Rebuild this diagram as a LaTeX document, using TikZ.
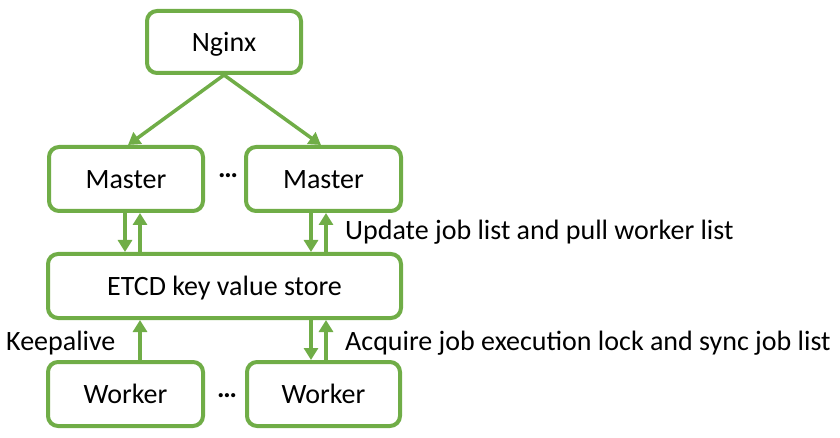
\documentclass[tikz,border=0pt]{standalone}
\usepackage{fontspec}
\setmainfont{Carlito}
\usetikzlibrary{arrows.meta}
\definecolor{grn}{HTML}{70AD47}
\tikzset{
  box/.style={draw=grn, line width=4pt, rounded corners=10pt, fill=white,
    minimum width=#1, minimum height=64pt, inner sep=0pt,
    font=\fontsize{28}{30}\selectfont, text height=19pt, text depth=0pt},
  arr/.style={draw=grn, line width=3.5pt, -{Triangle[width=14pt,length=12pt]}},
  lbl/.style={anchor=base west, inner sep=0pt, font=\fontsize{28}{30}\selectfont},
  dots/.style={inner sep=0pt, font=\fontsize{28}{30}\selectfont\bfseries}
}
\begin{document}
\begin{tikzpicture}[x=1pt,y=-1pt]
\useasboundingbox (0,0) rectangle (840,438);
\node[box=154pt, minimum height=62pt] (ng) at (224,42) {Nginx};
\node[box=154pt] (m1) at (126,179) {Master};
\node[box=155pt] (m2) at (323.5,179) {Master};
\node[box=353pt] (etcd) at (224.5,286) {ETCD key value store};
\node[box=155pt] (w1) at (125.5,394) {Worker};
\node[box=153pt] (w2) at (323.5,394) {Worker};
\node[dots] (d1) at (228,176) {…};
\node[dots] (d2) at (227,396) {…};
\coordinate (xa) at (125,0);
\coordinate (xb) at (140,0);
\coordinate (xc) at (311,0);
\coordinate (xd) at (326,0);
\coordinate (t1) at (128,0);
\coordinate (t2) at (321,0);
% Nginx to masters
\draw[arr] (ng.south) -- (m1.north -| t1);
\draw[arr] (ng.south) -- (m2.north -| t2);
% masters <-> etcd
\draw[arr] (m1.south -| xa) -- (etcd.north -| xa);
\draw[arr] (etcd.north -| xb) -- (m1.south -| xb);
\draw[arr] (m2.south -| xc) -- (etcd.north -| xc);
\draw[arr] (etcd.north -| xd) -- (m2.south -| xd);
% workers <-> etcd
\draw[arr] (w1.north -| xb) -- (etcd.south -| xb);
\draw[arr] (etcd.south -| xc) -- (w2.north -| xc);
\draw[arr] (w2.north -| xd) -- (etcd.south -| xd);
% labels
\node[lbl] (l1) at (345,240) {Update job list and pull worker list};
\node[lbl] (l2) at (6,350) {Keepalive};
\node[lbl] (l3) at (345,350) {Acquire job execution lock and sync job list};
\end{tikzpicture}
\end{document}
